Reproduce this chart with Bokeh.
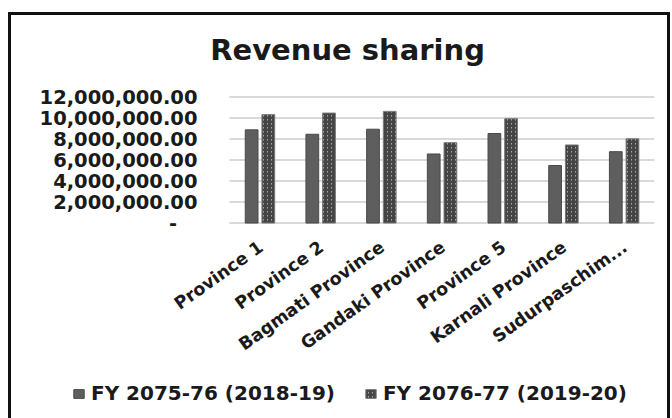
from bokeh.plotting import figure
from bokeh.models import Range1d, Label, Legend, LegendItem, ColumnDataSource
from bokeh.core.properties import value
from bokeh.embed import file_html
from bokeh.resources import INLINE

provinces = ["Province 1", "Province 2", "Bagmati Province", "Gandaki Province",
             "Province 5", "Karnali Province", "Sudurpaschim..."]
fy_2075_76 = [8.88e6, 8.46e6, 8.94e6, 6.58e6, 8.53e6, 5.48e6, 6.80e6]
fy_2076_77 = [10.33e6, 10.48e6, 10.64e6, 7.66e6, 9.94e6, 7.44e6, 8.02e6]
series_names = ["FY 2075-76 (2018-19)", "FY 2076-77 (2019-20)"]
y_ticks = [0, 2e6, 4e6, 6e6, 8e6, 10e6, 12e6]
y_tick_labels = ["-\u00a0\u00a0\u00a0", "2,000,000.00", "4,000,000.00", "6,000,000.00",
                 "8,000,000.00", "10,000,000.00", "12,000,000.00"]
title_text = "Revenue sharing"

FONT = "DejaVu Sans"
TXT = "#1a1a1a"
n = len(provinces)

# layout geometry (pixels): plot area 227..648 x 96..221 inside a canvas 11..667 x 15..418
cat_px = (648 - 227) / n
px_per_unit = 12e6 / (221 - 96)
x_start = -(227 - 11) / cat_px
x_end = n + (667 - 648) / cat_px
y_end = 12e6 + (96 - 15) * px_per_unit
y_start = -(418 - 221) * px_per_unit

centers = [i + 0.5 for i in range(n)]
src = ColumnDataSource(dict(prov=provinces, xc=centers,
                            xa=[c - 0.135 for c in centers], xb=[c + 0.14 for c in centers],
                            a=fy_2075_76, b=fy_2076_77))

p = figure(x_range=Range1d(x_start, x_end), y_range=Range1d(y_start, y_end),
           width=662, height=406, x_axis_type=None, y_axis_type=None,
           output_backend="svg", toolbar_location=None,
           min_border_left=0, min_border_right=0, min_border_top=0, min_border_bottom=0,
           margin=(12, 0, 0, 8))
p.styles = {"border-top": "3px solid #111", "border-left": "3px solid #111",
            "border-right": "3px solid #111", "box-sizing": "border-box"}
p.outline_line_color = None
p.background_fill_color = "white"
p.border_fill_color = "white"
p.grid.visible = False

# gridlines (incl. baseline) across plot area only
p.segment(x0=0, x1=n, y0=y_ticks, y1=y_ticks, line_color="#d9d9d9", line_width=2)

r1 = p.vbar(x="xa", top="a", width=0.21, source=src,
            fill_color="#5e5e5e", line_color="#4a4a4a", line_width=1)
r2 = p.vbar(x="xb", top="b", width=0.21, source=src,
            fill_color="#b0b0b0", line_color="#7a7a7a", line_width=1,
            hatch_pattern="right_diagonal_line", hatch_color="#444444",
            hatch_scale=4, hatch_weight=1.8)

# y-axis tick labels
p.text(x=0, y=y_ticks, text=y_tick_labels, x_offset=-32,
       text_align="right", text_baseline="middle",
       text_font=value(FONT), text_font_size="19.5px", text_font_style="bold",
       text_color=TXT)

# category labels, rotated
p.text(x="xc", y=0, text="prov", source=src, angle=0.62, x_offset=1, y_offset=22,
       text_align="right", text_baseline="middle",
       text_font=value(FONT), text_font_size="17.5px", text_font_style="bold",
       text_color=TXT)

title = Label(x=(344 - 227) / cat_px, y=(221 - 49) * px_per_unit, text=title_text,
              text_align="center", text_baseline="alphabetic",
              text_font=FONT, text_font_size="29px", text_font_style="bold",
              text_color=TXT)
p.add_layout(title)

legend = Legend(items=[LegendItem(label=series_names[0], renderers=[r1]),
                       LegendItem(label=series_names[1], renderers=[r2])],
                orientation="horizontal", location=(61, 16),
                padding=0, margin=0, spacing=29, glyph_width=13, glyph_height=11,
                label_standoff=6, border_line_color=None, background_fill_alpha=0,
                label_text_font=FONT, label_text_font_size="20px",
                label_text_font_style="bold", label_text_color=TXT)
p.add_layout(legend, "center")

open("out.html", "w").write(file_html(p, INLINE))
